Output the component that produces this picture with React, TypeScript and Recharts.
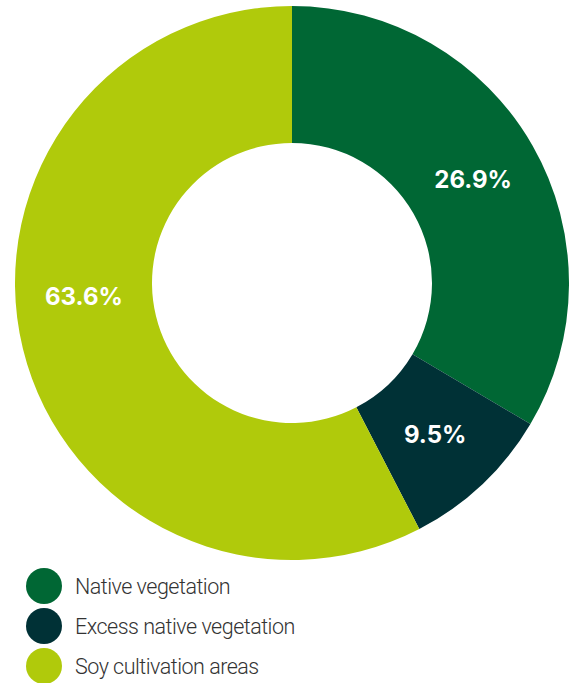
import { PieChart, Pie, Cell, Legend } from 'recharts';

// slice sizes as drawn (angles)
const categories = ['Native vegetation', 'Excess native vegetation', 'Soy cultivation areas'];
const shares = [33.5, 8.9, 57.6];
// the printed labels
const labels = ['26.9%', '9.5%', '63.6%'];
const colors = ['#006734', '#003136', '#b0ca0b'];
const labelAngleShift = [0, 0, -10];

const data = categories.map((name, i) => ({ name, value: shares[i], label: labels[i] }));

const RAD = Math.PI / 180;

const renderLabel = (props: any) => {
  const { cx, cy, midAngle, innerRadius, outerRadius, index } = props;
  const r = (innerRadius + outerRadius) / 2;
  const a = (midAngle + labelAngleShift[index]) * RAD;
  const x = cx + r * Math.cos(a);
  const y = cy - r * Math.sin(a);
  return (
    <text
      x={x}
      y={y}
      fill="#ffffff"
      textAnchor="middle"
      dominantBaseline="central"
      style={{ fontFamily: 'Inter, sans-serif', fontWeight: 700, fontSize: 24 }}
    >
      {labels[index]}
    </text>
  );
};

const renderLegend = () => (
  <div style={{ position: 'relative' }}>
    {categories.map((name, i) => (
      <div
        key={name}
        style={{ display: 'flex', alignItems: 'center', height: 40, marginLeft: 26 }}
      >
        <span
          style={{
            width: 36,
            height: 36,
            borderRadius: '50%',
            background: colors[i],
            display: 'inline-block',
            marginRight: 13,
          }}
        />
        <span
          style={{
            fontFamily: 'Roboto, sans-serif',
            fontWeight: 300,
            fontSize: 21.5,
            letterSpacing: -0.5,
            color: '#333333',
          }}
        >
          {name}
        </span>
      </div>
    ))}
  </div>
);

export default function App() {
  return (
    <div style={{ position: 'absolute', left: 0, top: 0, width: 574, height: 683, background: '#fff' }}>
      <PieChart width={574} height={683} margin={{ top: 0, right: 0, bottom: 0, left: 0 }}>
        <Pie
          data={data}
          dataKey="value"
          nameKey="name"
          cx={292}
          cy={283}
          innerRadius={140}
          outerRadius={277}
          startAngle={90}
          endAngle={-270}
          stroke="none"
          label={renderLabel}
          labelLine={false}
          isAnimationActive={false}
        >
          {data.map((d, i) => (
            <Cell key={d.name} fill={colors[i]} />
          ))}
        </Pie>
        <Legend
          content={renderLegend}
          wrapperStyle={{ position: 'absolute', left: 0, top: 566, width: 574 }}
        />
      </PieChart>
    </div>
  );
}
